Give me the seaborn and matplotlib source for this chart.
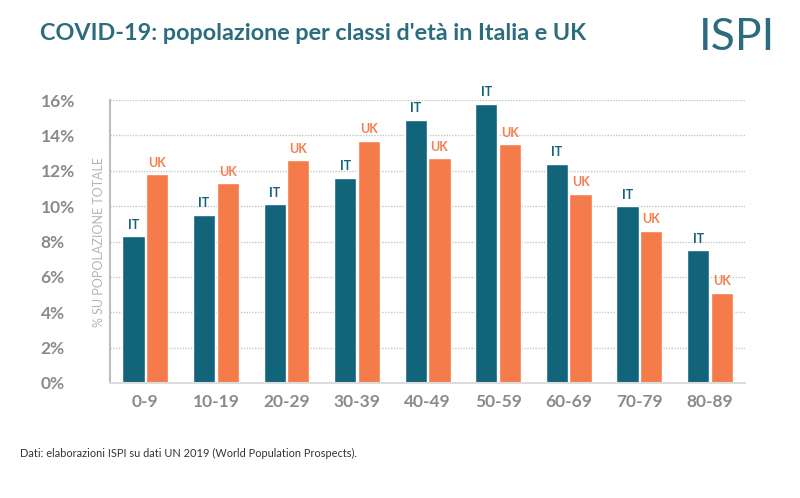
import pandas as pd
import matplotlib
matplotlib.use("Agg")
import matplotlib.pyplot as plt
import seaborn as sns

# dati (% sulla popolazione totale)
classi = ["0-9", "10-19", "20-29", "30-39", "40-49", "50-59", "60-69", "70-79", "80-89"]
italia = [8.3, 9.5, 10.1, 11.6, 14.9, 15.8, 12.4, 10.0, 7.5]
uk = [11.8, 11.3, 12.6, 13.7, 12.7, 13.5, 10.7, 8.6, 5.1]

paesi = ["IT", "UK"]
colori = {"IT": "#12647a", "UK": "#f67b4b"}

df = pd.DataFrame({
    "classe": classi * 2,
    "paese": ["IT"] * len(classi) + ["UK"] * len(classi),
    "valore": italia + uk,
})

sns.set_style("white")
plt.rcParams["font.family"] = ["Lato", "DejaVu Sans"]

fig = plt.figure(figsize=(8, 4.98), dpi=100)
ax = fig.add_axes([0.1375, 0.231, 0.794, 0.568])

sns.barplot(data=df, x="classe", y="valore", hue="paese", palette=colori,
            width=0.67, gap=0.06, saturation=1, ax=ax, legend=False)

# etichette IT / UK sopra le barre
for cont, p in zip(ax.containers, paesi):
    for bar in cont:
        ax.annotate(p, (bar.get_x() + bar.get_width() / 2, bar.get_height()),
                    xytext=(0, 4), textcoords="offset points", ha="center", va="bottom",
                    color=colori[p], fontsize=9, fontweight="bold")

ax.set_xlim(-0.5, 8.5)
ax.set_ylim(0, 16)
ax.set_yticks(range(0, 17, 2))
ax.set_yticklabels([f"{v}%" for v in range(0, 17, 2)])
for t in ax.get_yticklabels():
    t.set_ha("left")
ax.tick_params(axis="y", pad=50, length=0, labelsize=12.5, labelcolor="#8a8a8a")
ax.tick_params(axis="x", pad=8, length=0, labelsize=12.5, labelcolor="#8a8a8a")
for t in ax.get_yticklabels() + ax.get_xticklabels():
    t.set_fontweight("bold")

ax.set_xlabel("")
ax.set_ylabel("% SU POPOLAZIONE TOTALE", fontsize=9, color="#b5b5b5", labelpad=2)
ax.yaxis.set_label_coords(-0.008, 0.5)

ax.grid(axis="y", linestyle=(0, (1, 1)), color="#c8c8c8", linewidth=1)
ax.set_axisbelow(True)
for s in ["top", "right"]:
    ax.spines[s].set_visible(False)
ax.spines["left"].set_color("#bdbdbd")
ax.spines["left"].set_linewidth(1.5)
ax.spines["bottom"].set_color("#dcdcdc")
ax.spines["bottom"].set_linewidth(1.5)

fig.text(0.05, 0.933, "COVID-19: popolazione per classi d'età in Italia e UK",
         fontsize=16.8, fontweight="bold", color="#2b6c7d", va="center")
fig.text(0.969, 0.925, "ISPI", fontsize=32, fontweight="normal", color="#2b6c7d",
         ha="right", va="center")
fig.text(0.025, 0.09, "Dati: elaborazioni ISPI su dati UN 2019 (World Population Prospects).",
         fontsize=7.9, color="#333333", va="center")

fig.savefig("out.png", dpi=100)
